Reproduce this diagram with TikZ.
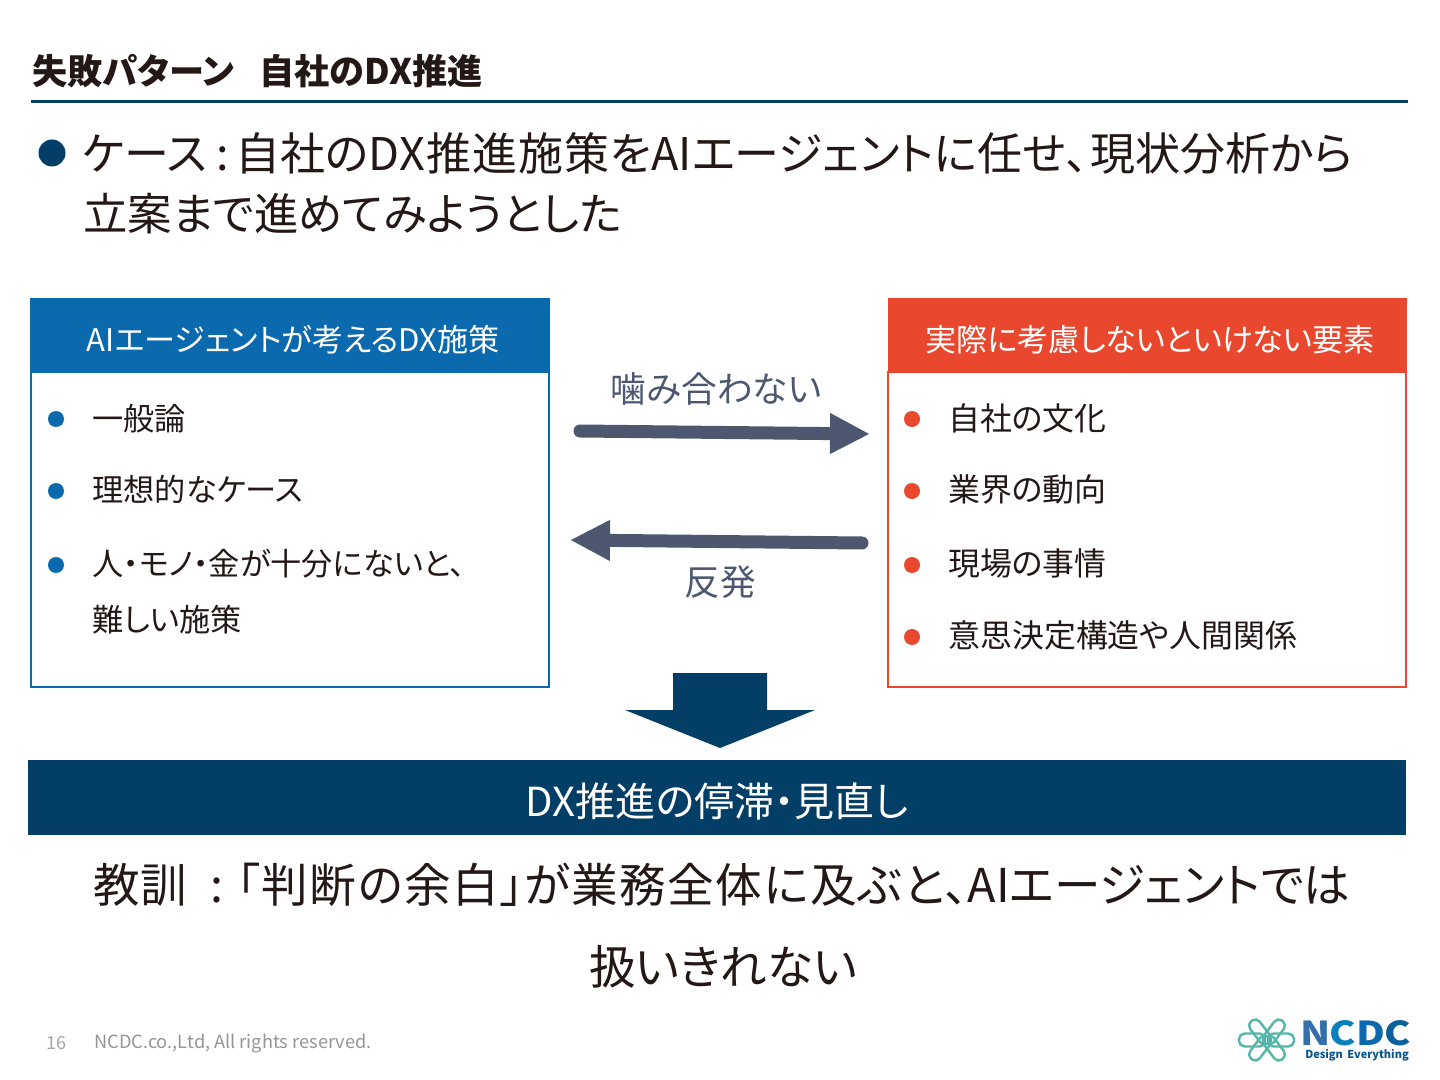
\documentclass[tikz,border=0pt]{standalone}
\usepackage{fontspec}
\setmainfont{Noto Sans CJK JP}[RawFeature=+palt]
\setsansfont{Noto Sans CJK JP}[RawFeature=+palt]
\usetikzlibrary{calc,positioning,arrows.meta}
\definecolor{navy}{HTML}{033E66}
\definecolor{ink}{HTML}{231815}
\definecolor{aiblue}{HTML}{0B69AE}
\definecolor{realred}{HTML}{E9482F}
\definecolor{slate}{HTML}{4D5870}
\definecolor{footgray}{HTML}{A6A6A6}
\definecolor{logoteal}{HTML}{55B5A8}
\tikzset{
  heading/.style={anchor=base west,inner sep=0pt,text=ink,font=\fontsize{22.5}{27}\selectfont},
  lesson/.style={anchor=base,inner sep=0pt,text=ink,font=\fontsize{23.3}{27}\selectfont},
  item/.style={anchor=base west,inner sep=0pt,text=ink,font=\fontsize{15.6}{19}\selectfont},
  realitem/.style={item,font=\fontsize{15.95}{19}\selectfont},
  headtext/.style={anchor=base,inner sep=0pt,text=white,font=\fontsize{15.55}{19}\selectfont},
  talk/.style={anchor=base,inner sep=0pt,text=slate,font=\fontsize{17.8}{20}\selectfont},
  talkarrow/.style={-{Triangle[length=20pt,width=19pt]},slate,line width=6.5pt,line cap=round},
  logoloop/.style={draw=logoteal,line width=1.2pt,rectangle,rounded corners=2.8pt,inner sep=0pt},
  logoletter/.style={anchor=base,inner sep=0pt,xscale=1.2,font=\fontsize{16.5}{19}\bfseries\selectfont}
}
\begin{document}
\begin{tikzpicture}[>=Stealth,x=0.5pt,y=-0.5pt]
\useasboundingbox (0,0) rectangle (1440,1080);
\node[anchor=base west,inner sep=0pt,text=ink,font=\fontsize{17.6}{20}\bfseries\selectfont] (title) at (32,85) {失敗パターン\hspace{.72em}自社のDX推進};
\draw[navy,line width=1.5pt] (31,102) -- (1408,102);
\fill[navy] (52,153) circle (13.5);
\node[heading] (caseA) at (82,171) {ケース\hspace{.2em}:\hspace{.15em}自社の{\addfontfeature{LetterSpace=2}DX推進施策を}AIエージェントに任せ、\hspace{.05em}現状分析から};
\node[heading,font=\fontsize{22.2}{27}\selectfont] (caseB) at (83,231) {立案まで進めてみようとした};

\fill[aiblue] (30,298) rectangle (550,372);
\draw[aiblue,line width=1pt] (31,372) rectangle (549,687);
\node[headtext] (aiHead) at (293,352) {AIエージェントが考えるDX施策};
\fill[realred] (888,298) rectangle (1407,372);
\draw[realred,line width=1pt] (888,372) rectangle (1406,687);
\node[headtext] (realHead) at (1150,352) {実際に考慮しないといけない要素};

\foreach \y in {419,491,565} \fill[aiblue] (56,\y) circle (8);
\node[item] (aiA) at (92,430) {一般論};
\node[item] (aiB) at (92,502) {理想的なケース};
\node[item] (aiC) at (92,575) {人・モノ・金が十分にないと、};
\node[item] (aiD) at (92,631) {難しい施策};

\foreach \y in {419,491,565,637} \fill[realred] (912,\y) circle (8);
\node[realitem] (realA) at (948,430) {自社の文化};
\node[realitem] (realB) at (948,502) {業界の動向};
\node[realitem] (realC) at (948,575) {現場の事情};
\node[realitem] (realD) at (948,647) {意思決定構造や人間関係};

\node[talk] (misfit) at (716,403) {噛み合わない};
\coordinate (misfitFrom) at (580,431);
\coordinate (misfitTo) at (870,434);
\draw[talkarrow] (misfitFrom) -- (misfitTo);
\coordinate (pushFrom) at (862,543);
\coordinate (pushTo) at (570,540);
\draw[talkarrow] (pushFrom) -- (pushTo);
\node[talk] (push) at (720,595) {反発};

\fill[navy] (673,673) -- (767,673) -- (767,710) -- (815,710) -- (720,748) -- (625,710) -- (673,710) -- cycle;
\fill[navy] (28,760) rectangle (1406,835);
\node[anchor=base,inner sep=0pt,text=white,font=\fontsize{20}{22}\selectfont] (stall) at (717,816) {DX推進の停滞・見直し};
\node[lesson] (lessonA) at (722,902) {教訓\hspace{.5em}:\hspace{.3em}{\addfontfeature{LetterSpace=3}「判断の余白」が業務全体に及ぶと、}AIエージェントでは};
\node[lesson] (lessonB) at (723,984) {扱いきれない};

\node[anchor=base west,inner sep=0pt,text=footgray,font=\fontsize{9}{11}\selectfont] (page) at (46,1049) {16};
\node[anchor=base west,inner sep=0pt,text=footgray!90!black,font=\fontsize{9.1}{12}\selectfont] (rights) at (94,1048) {NCDC.co.,Ltd, All rights reserved.};

\foreach \n/\x/\y/\r in {a/1260/1032/-53,b/1260/1048/53,c/1274/1032/53,d/1274/1048/-53}
  \node[logoloop,minimum width=14pt,minimum height=6pt,rotate=\r] (petal\n) at (\x,\y) {};
\foreach \n/\x in {a/1252,b/1281}
  \node[logoloop,minimum width=13pt,minimum height=6.5pt] (ring\n) at (\x,1040) {};
\node[logoletter,text=cyan!55!blue!80!black] (logoN) at (1316,1045) {N};
\node[logoletter,text=aiblue!85!cyan] (logoC) at (1343,1045) {C};
\node[logoletter,text=aiblue] (logoD) at (1371,1045) {D};
\node[logoletter,text=aiblue!90!black] (logoE) at (1398,1045) {C};
\node[anchor=base,inner sep=0pt,text=aiblue!80!black,font=\fontsize{5.5}{6}\bfseries\selectfont] (logoTag) at (1357,1058) {Design\hspace{.4em}Everything};
\end{tikzpicture}
\end{document}
